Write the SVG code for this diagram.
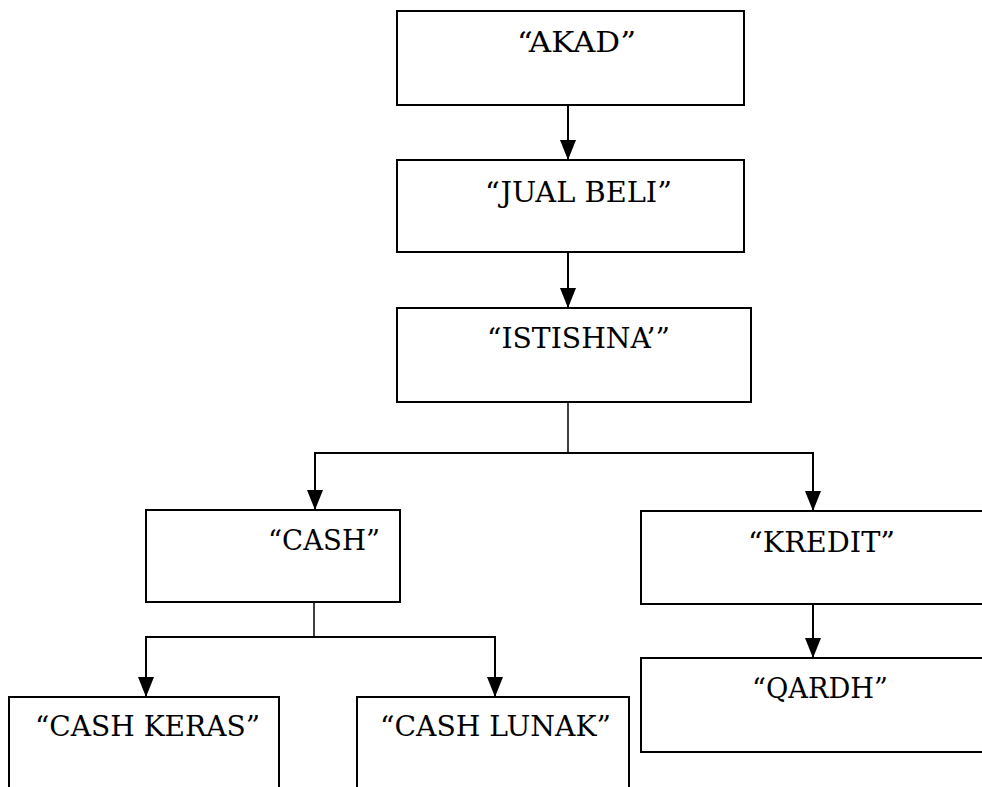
<svg xmlns="http://www.w3.org/2000/svg" width="982" height="787" viewBox="0 0 982 787">
<style>
.box{fill:#fff;stroke:#000;stroke-width:2}
.lbl{font-size:27px;fill:#000}
.ln{fill:none;stroke:#000;stroke-width:2}
.thin{fill:none;stroke:#000;stroke-width:1.5}
</style>
<defs>
<marker id="ah" markerUnits="userSpaceOnUse" markerWidth="20" markerHeight="16" refX="20" refY="8" orient="auto" viewBox="0 0 20 16">
<path d="M0,0 L20,8 L0,16 Z" fill="#000"/>
</marker>
</defs>
<rect width="982" height="787" fill="#fff"/>
<g id="connectors">
<line class="ln" x1="568" y1="105" x2="568" y2="160" marker-end="url(#ah)"/>
<line class="ln" x1="568" y1="252" x2="568" y2="308" marker-end="url(#ah)"/>
<line class="thin" x1="568" y1="402" x2="568" y2="453"/>
<line class="ln" x1="314" y1="453" x2="813" y2="453"/>
<line class="ln" x1="315" y1="452" x2="315" y2="510" marker-end="url(#ah)"/>
<line class="ln" x1="813" y1="452" x2="813" y2="511" marker-end="url(#ah)"/>
<line class="thin" x1="314" y1="602" x2="314" y2="637"/>
<line class="ln" x1="145" y1="637" x2="496" y2="637"/>
<line class="ln" x1="146" y1="636" x2="146" y2="697" marker-end="url(#ah)"/>
<line class="ln" x1="495" y1="636" x2="495" y2="697" marker-end="url(#ah)"/>
<line class="ln" x1="813" y1="604" x2="813" y2="658" marker-end="url(#ah)"/>
</g>
<g font-family="DejaVu Serif, Liberation Serif, serif">
<g id="akad"><rect class="box" x="397" y="11" width="347" height="94"/><text class="lbl" x="517" y="52" textLength="119" lengthAdjust="spacingAndGlyphs">“AKAD”</text></g>
<g id="jual-beli"><rect class="box" x="397" y="160" width="347" height="92"/><text class="lbl" x="485" y="202" textLength="187" lengthAdjust="spacingAndGlyphs">“JUAL BELI”</text></g>
<g id="istishna"><rect class="box" x="397" y="308" width="354" height="94"/><text class="lbl" x="487" y="348" textLength="183" lengthAdjust="spacingAndGlyphs">“ISTISHNA’”</text></g>
<g id="cash"><rect class="box" x="146" y="510" width="254" height="92"/><text class="lbl" x="268" y="550" textLength="112" lengthAdjust="spacingAndGlyphs">“CASH”</text></g>
<g id="kredit"><rect class="box" x="641" y="511" width="345" height="93"/><text class="lbl" x="748" y="552" textLength="147" lengthAdjust="spacingAndGlyphs">“KREDIT”</text></g>
<g id="qardh"><rect class="box" x="641" y="658" width="345" height="94"/><text class="lbl" x="752" y="698" textLength="136" lengthAdjust="spacingAndGlyphs">“QARDH”</text></g>
<g id="cash-keras"><rect class="box" x="9" y="697" width="270" height="110"/><text class="lbl" x="35" y="736" textLength="225" lengthAdjust="spacingAndGlyphs">“CASH KERAS”</text></g>
<g id="cash-lunak"><rect class="box" x="357" y="697" width="272" height="110"/><text class="lbl" x="380" y="736" textLength="231" lengthAdjust="spacingAndGlyphs">“CASH LUNAK”</text></g>
</g>
</svg>
